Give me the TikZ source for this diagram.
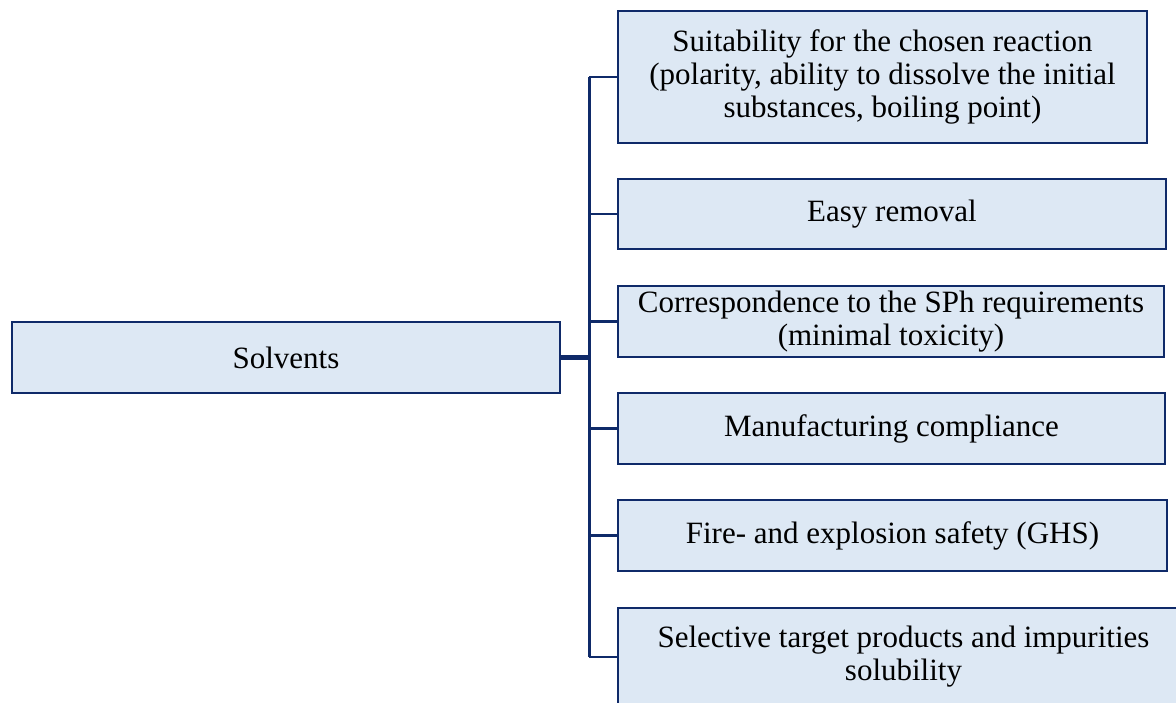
\documentclass[tikz,border=0pt]{standalone}
\usepackage{fontspec}
\setmainfont{Liberation Serif}
\usepackage{tikz}
\definecolor{solvline}{HTML}{0F2A69}
\definecolor{solvfill}{HTML}{DDE8F4}

\begin{document}
\begin{tikzpicture}[x=1pt, y=-1pt, font=\fontsize{31}{33}\selectfont,
	box/.style={draw=solvline, fill=solvfill, line width=2.6pt, align=center, inner sep=0pt},
	link/.style={solvline, line width=2.6pt}]
	\useasboundingbox (0,0) rectangle (1176,702);
	\clip (0,0) rectangle (1176,702);
	\node[box, minimum width=548pt, minimum height=71pt] (root) at (286,357.5) {Solvents};
	\node[box, minimum width=529pt, minimum height=132pt] (s1) at (882.5,77) {Suitability for the chosen reaction\\(polarity, ability to dissolve the initial\\substances, boiling point)};
	\node[box, minimum width=548pt, minimum height=70pt] (s2) at (892,214) {Easy removal};
	\node[box, minimum width=546pt, minimum height=71pt] (s3) at (891,321.5) {Correspondence to the SPh requirements\\(minimal toxicity)};
	\node[box, minimum width=547pt, minimum height=71pt] (s4) at (891.5,428.5) {Manufacturing compliance};
	\node[box, minimum width=549pt, minimum height=71pt] (s5) at (892.5,535.5) {Fire- and explosion safety (GHS)};
	\node[box, minimum width=571pt, minimum height=98pt] (s6) at (903.5,657) {Selective target products and impurities\\solubility};
	\coordinate (hub) at (589,357.5);
	\draw[link, line width=4.5pt] (root.east) -- (hub);
	\draw[link, line width=3pt] (hub |- s1.west) -- (hub |- s6.west);
	\foreach \i in {1,...,6}
		\draw[link] (hub |- s\i.west) -- (s\i.west);
\end{tikzpicture}
\end{document}
